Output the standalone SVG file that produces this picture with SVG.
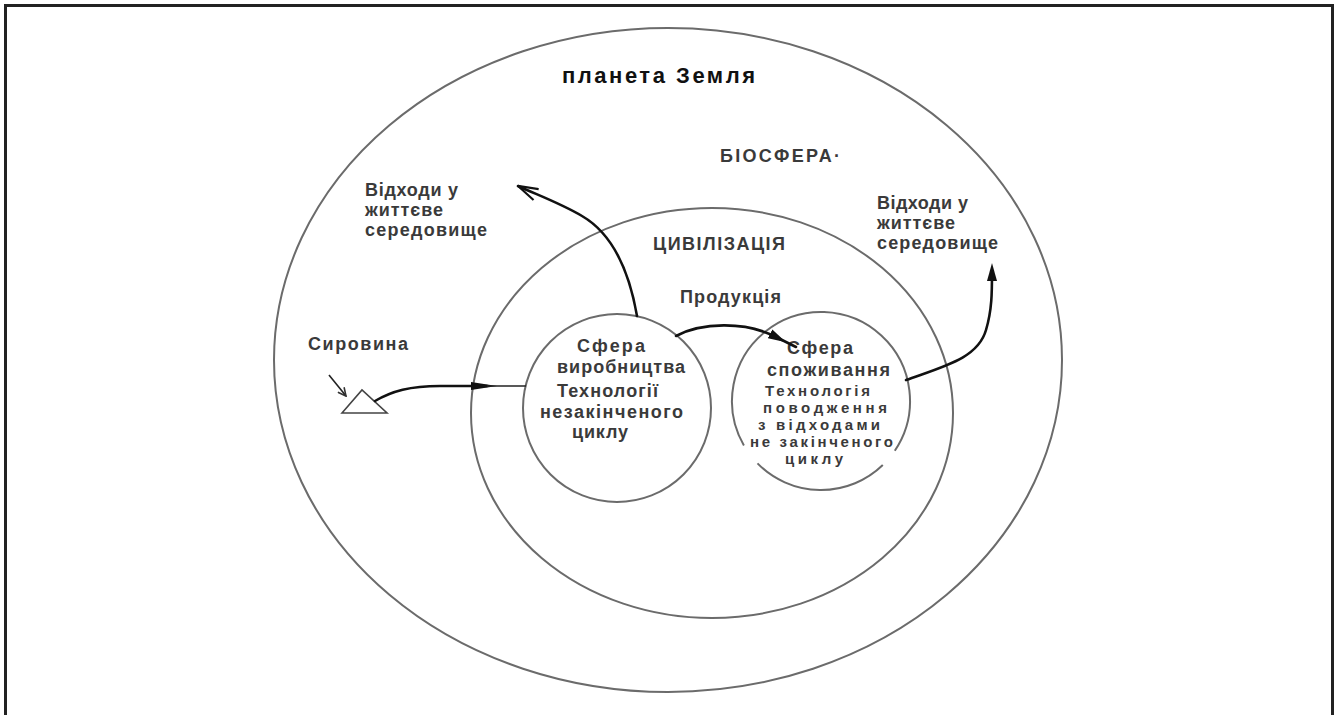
<svg xmlns="http://www.w3.org/2000/svg" width="1336" height="715" viewBox="0 0 1336 715">
<style>
.ring{fill:none;stroke:#6b6b6b;stroke-width:2}
.t{font-family:"Liberation Sans",Arial,sans-serif;font-size:18px;font-weight:bold;fill:#3a3a3a}
.s{font-size:15px}
.b{fill:#111;font-size:22px}
.conn{fill:none;stroke:#111;stroke-width:2.6;stroke-linecap:round}
.thin{fill:none;stroke:#222;stroke-width:1.6}
</style>
<defs>
<marker id="solid" markerUnits="userSpaceOnUse" viewBox="0 0 18 10" markerWidth="18" markerHeight="10" refX="9" refY="5" orient="auto"><path d="M0,0 L18,5 L0,10 Z" fill="#111"/></marker>
<marker id="solidLong" markerUnits="userSpaceOnUse" viewBox="0 0 26 8" markerWidth="26" markerHeight="8" refX="16" refY="4" orient="auto"><path d="M0,0 L26,4 L0,8 Z" fill="#111"/></marker>
<marker id="open" markerUnits="userSpaceOnUse" viewBox="0 0 22 14" markerWidth="22" markerHeight="14" refX="21" refY="7" orient="auto"><path d="M1,1 L21,7 L1,13" fill="none" stroke="#111" stroke-width="2.2"/></marker>
<marker id="openSmall" markerUnits="userSpaceOnUse" viewBox="0 0 10 10" markerWidth="10" markerHeight="10" refX="9" refY="5" orient="auto"><path d="M1,1 L9,5 L1,9" fill="none" stroke="#333" stroke-width="1.6"/></marker>
</defs>
<rect width="1336" height="715" fill="#fff"/>
<g id="frame"><path d="M5.5,720 L5.5,5.5 L1332.5,5.5 L1332.5,720" fill="none" stroke="#222" stroke-width="3"/></g>
<g id="planet">
<ellipse class="ring" cx="668" cy="360" rx="394" ry="332"/>
<text class="t b" x="562" y="83" textLength="193" lengthAdjust="spacing">планета Земля</text>
<text class="t" x="720" y="162" textLength="120" lengthAdjust="spacing">БІОСФЕРА·</text>
</g>
<g id="civilization">
<ellipse class="ring" cx="712" cy="413" rx="241" ry="205"/>
<text class="t" x="653" y="250" textLength="132" lengthAdjust="spacing">ЦИВІЛІЗАЦІЯ</text>
</g>
<g id="production-sphere">
<circle class="ring" cx="617" cy="408" r="94"/>
<text class="t" x="577" y="352" textLength="68" lengthAdjust="spacing">Сфера</text>
<text class="t" x="557" y="373" textLength="128" lengthAdjust="spacing">виробництва</text>
<text class="t" x="557" y="397" textLength="101" lengthAdjust="spacing">Технології</text>
<text class="t" x="540" y="418" textLength="143" lengthAdjust="spacing">незакінченого</text>
<text class="t" x="572" y="438" textLength="56" lengthAdjust="spacing">циклу</text>
</g>
<g id="consumption-sphere">
<path class="ring" d="M743.9,445.5 A89,89 0 1 1 894.8,450.8"/>
<path class="ring" d="M882.8,465 A89,89 0 0 1 757.5,463.4"/>
<text class="t" x="787" y="354" textLength="66" lengthAdjust="spacing">Сфера</text>
<text class="t" x="767" y="376" textLength="123" lengthAdjust="spacing">споживання</text>
<text class="t s" x="765" y="396" textLength="105" lengthAdjust="spacing">Технологія</text>
<text class="t s" x="763" y="413" textLength="124" lengthAdjust="spacing">поводження</text>
<text class="t s" x="758" y="430" textLength="122" lengthAdjust="spacing">з відходами</text>
<text class="t s" x="750" y="447" textLength="143" lengthAdjust="spacing">не закінченого</text>
<text class="t s" x="785" y="464" textLength="58" lengthAdjust="spacing">циклу</text>
</g>
<g id="raw-material">
<text class="t" x="308" y="350" textLength="100" lengthAdjust="spacing">Сировина</text>
<polygon points="342,413 362,390 387,413" fill="none" stroke="#444" stroke-width="1.6"/>
</g>
<g id="waste-left">
<text class="t" x="365" y="196" textLength="93" lengthAdjust="spacing">Відходи у</text>
<text class="t" x="365" y="216" textLength="78" lengthAdjust="spacing">життєве</text>
<text class="t" x="365" y="236" textLength="122" lengthAdjust="spacing">середовище</text>
</g>
<g id="waste-right">
<text class="t" x="877" y="209" textLength="91" lengthAdjust="spacing">Відходи у</text>
<text class="t" x="877" y="229" textLength="78" lengthAdjust="spacing">життєве</text>
<text class="t" x="877" y="249" textLength="121" lengthAdjust="spacing">середовище</text>
</g>
<g id="product-label">
<text class="t" x="680" y="303" textLength="101" lengthAdjust="spacing">Продукція</text>
</g>
<g id="connectors">
<path class="thin" d="M329,375 L346,396" marker-end="url(#openSmall)"/>
<path class="conn" d="M375,401 C392,391 410,386 440,386 L487,386" stroke-width="3.4" marker-end="url(#solidLong)"/>
<path class="thin" d="M487,386 L526,386"/>
<path class="conn" d="M637,316 C629,270 613,234 582,216 C560,203 535,194 518,186" marker-end="url(#open)"/>
<path class="conn" d="M676,336 C700,323 745,320 778,338 L796,347" marker-mid="url(#solid)"/>
<path class="conn" d="M906,380 C945,366 978,358 986,330 C992,310 992,292 992,272" marker-end="url(#solid)"/>
</g>
</svg>
